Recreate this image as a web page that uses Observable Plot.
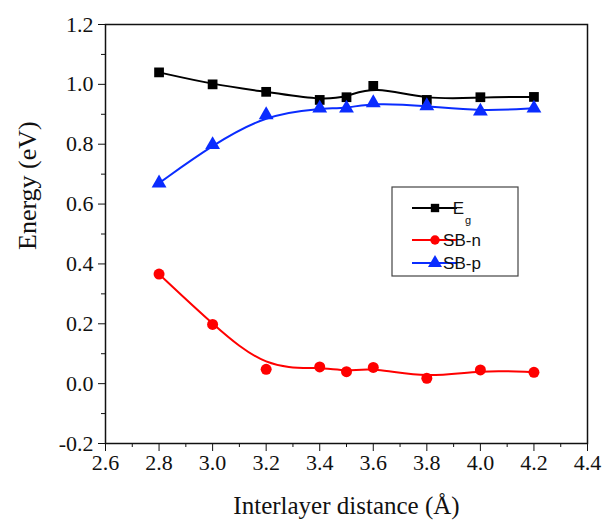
<!DOCTYPE html>
<html><head><meta charset="utf-8">
<script src="https://cdn.jsdelivr.net/npm/d3@7"></script>
<script src="https://cdn.jsdelivr.net/npm/@observablehq/plot@0.6"></script>
<style>body{margin:0;background:#fff}</style>
</head><body><div id="chart"></div>
<script>
const distance = [2.8, 3.0, 3.2, 3.4, 3.5, 3.6, 3.8, 4.0, 4.2];
const eg   = [1.04, 1.00, 0.975, 0.948, 0.957, 0.995, 0.948, 0.957, 0.958];
const sbN  = [0.366, 0.198, 0.048, 0.056, 0.040, 0.054, 0.018, 0.046, 0.038];
const sbP  = [0.670, 0.798, 0.898, 0.920, 0.920, 0.938, 0.928, 0.910, 0.920];
const yTicks = [-0.2, 0.0, 0.2, 0.4, 0.6, 0.8, 1.0, 1.2];
const yMinor = [-0.1, 0.1, 0.3, 0.5, 0.7, 0.9, 1.1];
const xTicks = [2.6, 2.8, 3.0, 3.2, 3.4, 3.6, 3.8, 4.0, 4.2, 4.4];
const xMinor = [2.7, 2.9, 3.1, 3.3, 3.5, 3.7, 3.9, 4.1, 4.3];
const seriesNames = ["Eg", "SB-n", "SB-p"];
const seriesColors = ["#000000", "#ff0000", "#0a2cff"];
const seriesSymbols = ["square", "circle", "triangle"];

const rows = [];
[eg, sbN, sbP].forEach((vals, s) => vals.forEach((v, i) => rows.push({x: distance[i], y: v, s: seriesNames[s]})));

const serif = "Liberation Serif, Times New Roman, serif";
const fmt = d => d.toFixed(1);
const chart = Plot.plot({
  width: 608, height: 527,
  marginLeft: 105, marginRight: 21, marginTop: 24, marginBottom: 84,
  x: {domain: [2.6, 4.4]},
  y: {domain: [-0.2, 1.2]},
  color: {domain: seriesNames, range: seriesColors},
  symbol: {domain: seriesNames, range: seriesSymbols},
  style: {fontFamily: serif, background: "#fff"},
  marks: [
    Plot.axisY({ticks: yMinor, tickSize: 4, tickFormat: () => "", label: null, stroke: "#111"}),
    Plot.axisX({ticks: xMinor, tickSize: 4, tickFormat: () => "", label: null, stroke: "#111"}),
    Plot.axisY({ticks: yTicks, tickSize: 7, tickPadding: 5, tickFormat: fmt, label: null, fontSize: 22, fontFamily: serif, fill: "#111", stroke: "#111"}),
    Plot.axisX({ticks: xTicks, tickSize: 8, tickPadding: 3, tickFormat: fmt, label: null, fontSize: 22, fontFamily: serif, fill: "#111", stroke: "#111"}),
    Plot.frame({stroke: "#111", strokeWidth: 1.5}),
    Plot.line(rows, {x: "x", y: "y", z: "s", stroke: "s", strokeWidth: 2, curve: "basis"}),
    Plot.dot(rows, {x: "x", y: "y", fill: "s", symbol: "s", r: 5.5, stroke: null}),
    Plot.text(["Interlayer distance (Å)"], {frameAnchor: "bottom", dy: 70, fontSize: 25, fontFamily: serif, fill: "#111"}),
    Plot.text(["Energy (eV)"], {frameAnchor: "left", dx: -78, dy: 16, rotate: -90, fontSize: 26, fontFamily: serif, fill: "#111"})
  ]
});
document.getElementById("chart").append(chart);

// Legend
const svg = d3.select(chart);
const lg = svg.append("g").attr("font-family", "Liberation Sans, Arial, sans-serif");
lg.append("rect").attr("x", 392).attr("y", 187).attr("width", 126).attr("height", 89)
  .attr("fill", "#fff").attr("stroke", "#444").attr("stroke-width", 1.2);
const rowY = [208, 240, 263];
seriesNames.forEach((name, i) => {
  const y = rowY[i];
  lg.append("line").attr("x1", 412).attr("x2", 457).attr("y1", y).attr("y2", y)
    .attr("stroke", seriesColors[i]).attr("stroke-width", 2);
  lg.append("path").attr("transform", `translate(435,${y})`)
    .attr("d", d3.symbol(i === 0 ? d3.symbolSquare : i === 1 ? d3.symbolCircle : d3.symbolTriangle, i === 2 ? 85 : 70)())
    .attr("fill", seriesColors[i]);
  const t = lg.append("text").attr("x", 462).attr("y", y).attr("dy", "0.36em")
    .attr("font-size", 17).attr("fill", "#111");
  if (i === 0) {
    t.append("tspan").text("E");
    t.append("tspan").attr("font-size", 11).attr("dy", "0.9em").attr("dx", "1").text("g");
  } else {
    t.text(name);
  }
});
</script>
</body></html>
